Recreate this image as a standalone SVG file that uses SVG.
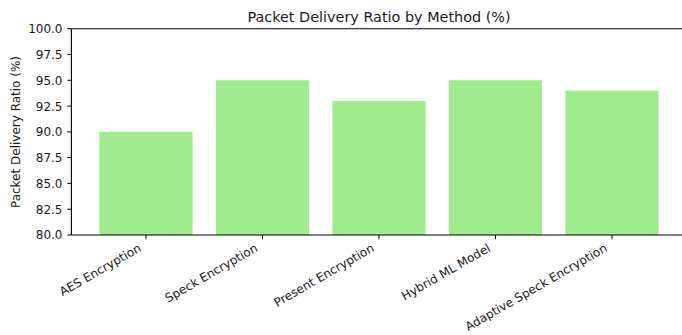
<svg xmlns="http://www.w3.org/2000/svg" width="682" height="335" viewBox="0 0 682 335">
<style>
text{font-family:"DejaVu Sans",sans-serif;fill:#1a1a1a}
.tk{font-size:12px}
.bar{fill:#a0eb8e}
.ax{stroke:#000;stroke-width:1.1;fill:none}
.tm{stroke:#000;stroke-width:1}
</style>
<rect width="682" height="335" fill="#fff"/>
<text x="379" y="21.7" font-size="14.4" text-anchor="middle">Packet Delivery Ratio by Method (%)</text>
<g id="bars">
<rect class="bar" x="99.4" y="131.85" width="93.2" height="103.15"/>
<rect class="bar" x="215.9" y="80.3" width="93.2" height="154.7"/>
<rect class="bar" x="332.4" y="100.9" width="93.2" height="134.1"/>
<rect class="bar" x="448.9" y="80.3" width="93.2" height="154.7"/>
<rect class="bar" x="565.4" y="90.6" width="93.2" height="144.4"/>
</g>
<g id="axes">
<path class="ax" d="M71.4 28.7H690M71.4 28.7V235M71.4 235H690"/>
<path class="tm" d="M67.3 28.7H71.4M67.3 54.5H71.4M67.3 80.3H71.4M67.3 106.1H71.4M67.3 131.85H71.4M67.3 157.6H71.4M67.3 183.4H71.4M67.3 209.2H71.4M67.3 235H71.4"/>
<path class="tm" d="M146 235V239.2M262.5 235V239.2M379 235V239.2M495.5 235V239.2M612 235V239.2"/>
</g>
<g id="yticks" class="tk" text-anchor="end">
<text x="62.5" y="33.1">100.0</text>
<text x="62.5" y="58.9">97.5</text>
<text x="62.5" y="84.7">95.0</text>
<text x="62.5" y="110.5">92.5</text>
<text x="62.5" y="136.25">90.0</text>
<text x="62.5" y="162">87.5</text>
<text x="62.5" y="187.8">85.0</text>
<text x="62.5" y="213.6">82.5</text>
<text x="62.5" y="239.4">80.0</text>
</g>
<text class="tk" transform="translate(19.5 132) rotate(-90)" text-anchor="middle">Packet Delivery Ratio (%)</text>
<g id="xticks" class="tk" text-anchor="end">
<text transform="translate(142 250.5) rotate(-30)">AES Encryption</text>
<text transform="translate(258.5 250.5) rotate(-30)">Speck Encryption</text>
<text transform="translate(375 250.5) rotate(-30)">Present Encryption</text>
<text transform="translate(491.5 250.5) rotate(-30)">Hybrid ML Model</text>
<text transform="translate(608 250.5) rotate(-30)">Adaptive Speck Encryption</text>
</g>
</svg>
